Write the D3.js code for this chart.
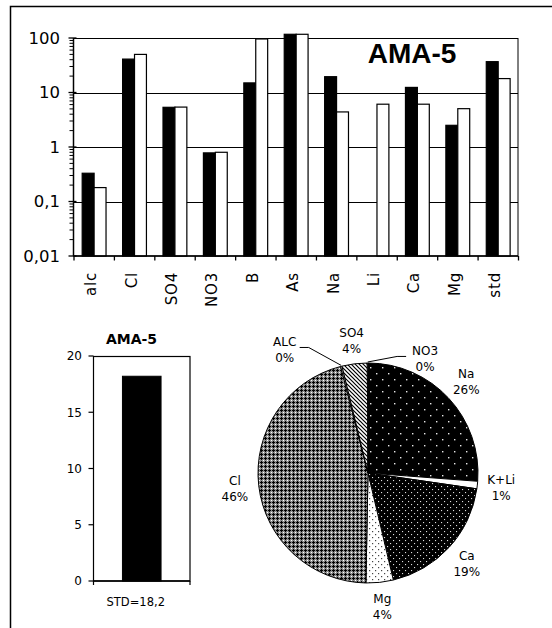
<!DOCTYPE html>
<html><head><meta charset="utf-8">
<script src="https://cdn.jsdelivr.net/npm/d3@7"></script>
<style>body{margin:0;background:#fff} svg{display:block}</style>
</head><body><svg id="c" width="552" height="628"></svg>
<script>
// ---------- data ----------
const categories = ["alc","Cl","SO4","NO3","B","As","Na","Li","Ca","Mg","std"];
const seriesBlack = [0.33, 41, 5.35, 0.78, 15, 117, 19.5, null, 12.4, 2.5, 36.8];
const seriesWhite = [0.18, 50, 5.4, 0.8, 96, 117, 4.4, 6.1, 6.1, 5.05, 18];
const logTicks = [0.01, 0.1, 1, 10, 100];
const logTickLabels = ["0,01", "0,1", "1", "10", "100"];
const mainTitle = "AMA-5";

const stdTitle = "AMA-5";
const stdValues = [18.2];
const stdCategory = ["STD=18,2"];
const stdTicks = [0, 5, 10, 15, 20];

const pieLabels = ["Na","K+Li","Ca","Mg","Cl","ALC","SO4","NO3"];
const pieValues = [26.2, 1.1, 19.0, 4.0, 45.7, 0.2, 3.7, 0.1];
const piePctLabels = ["26%","1%","19%","4%","46%","0%","4%","0%"];

// ---------- setup ----------
const svg = d3.select("#c");
const FONT = "'DejaVu Sans', sans-serif";

// frame
svg.append("path").attr("d","M10.5,628 V6.5 H552").attr("fill","none").attr("stroke","#000").attr("stroke-width",1.5);

// patterns
const defs = svg.append("defs");
function pat(id, w, h) {
  return defs.append("pattern").attr("id", id).attr("patternUnits","userSpaceOnUse")
    .attr("width", w).attr("height", h);
}
let p = pat("pNa", 12, 12);
p.append("rect").attr("width",12).attr("height",12).attr("fill","#000");
[[2,2],[8,8]].forEach(d => p.append("rect").attr("x",d[0]).attr("y",d[1]).attr("width",1.4).attr("height",1.4).attr("fill","#e8e8e8"));
p = pat("pCa", 6, 6);
p.append("rect").attr("width",6).attr("height",6).attr("fill","#000");
[[1,1],[4,4]].forEach(d => p.append("rect").attr("x",d[0]).attr("y",d[1]).attr("width",1.1).attr("height",1.1).attr("fill","#ddd"));
p = pat("pMg", 6, 6);
p.append("rect").attr("width",6).attr("height",6).attr("fill","#fff");
[[1,1],[4,4]].forEach(d => p.append("rect").attr("x",d[0]).attr("y",d[1]).attr("width",1.2).attr("height",1.2).attr("fill","#444"));
p = pat("pCl", 4, 4);
p.append("rect").attr("width",4).attr("height",4).attr("fill","#8c8c8c");
[[1,0],[0,1],[1,1],[2,1],[1,2]].forEach(d => p.append("rect").attr("x",d[0]).attr("y",d[1]).attr("width",1).attr("height",1).attr("fill","#000"));
p.append("rect").attr("x",3).attr("y",3).attr("width",1).attr("height",1).attr("fill","#fff");
p = pat("pSO4", 4, 4);
p.append("rect").attr("width",4).attr("height",4).attr("fill","#fff");
p.append("path").attr("d","M0,0 L4,4 M-1,3 L1,5 M3,-1 L5,1").attr("stroke","#000").attr("stroke-width",1.2);
const pieFills = ["url(#pNa)","#fff","url(#pCa)","url(#pMg)","url(#pCl)","#fff","url(#pSO4)","#fff"];

// ---------- top log bar chart ----------
const P = {l:73.5, r:518, t:38, b:256};
const y = d3.scaleLog().domain([0.01, 100]).range([P.b, P.t]);
const x0 = d3.scaleBand().domain(categories).range([P.l, P.r]).paddingInner(0);
const bw = x0.bandwidth();
const x1 = d3.scaleBand().domain(["black","white"]).range([bw*0.215, bw*0.805]);

const topG = svg.append("g");
// gridlines
topG.selectAll("line.grid").data(logTicks.slice(1, -1)).enter().append("line")
  .attr("x1", P.l).attr("x2", P.r).attr("y1", d => Math.round(y(d))+0.5).attr("y2", d => Math.round(y(d))+0.5)
  .attr("stroke","#000").attr("stroke-width",1);
// plot border
topG.append("rect").attr("x",P.l).attr("y",P.t+0.5).attr("width",P.r-P.l).attr("height",P.b-P.t-0.5)
  .attr("fill","none").attr("stroke","#000").attr("stroke-width",1);

// bars
const barData = [];
categories.forEach((c,i) => {
  if (seriesBlack[i] != null) barData.push({c, s:"black", v:seriesBlack[i]});
  if (seriesWhite[i] != null) barData.push({c, s:"white", v:seriesWhite[i]});
});
topG.selectAll("rect.bar").data(barData).enter().append("rect")
  .attr("x", d => x0(d.c) + x1(d.s))
  .attr("width", x1.bandwidth())
  .attr("y", d => y(d.v))
  .attr("height", d => P.b - y(d.v))
  .attr("fill", d => d.s === "black" ? "#000" : "#fff")
  .attr("stroke","#000").attr("stroke-width",1.2);

// y axis ticks (major + minor)
const minor = y.ticks().filter(t => !logTicks.includes(t));
topG.selectAll("line.minor").data(minor).enter().append("line")
  .attr("x1", P.l-4).attr("x2", P.l).attr("y1", d => y(d)).attr("y2", d => y(d))
  .attr("stroke","#000").attr("stroke-width",1);
topG.selectAll("line.major").data(logTicks).enter().append("line")
  .attr("x1", P.l-5).attr("x2", P.l+3).attr("y1", d => y(d)).attr("y2", d => y(d))
  .attr("stroke","#000").attr("stroke-width",1.3);
topG.append("line").attr("x1",P.l).attr("x2",P.l).attr("y1",P.t).attr("y2",P.b).attr("stroke","#000").attr("stroke-width",1.5);
topG.append("line").attr("x1",P.l).attr("x2",P.r).attr("y1",P.b).attr("y2",P.b).attr("stroke","#000").attr("stroke-width",1.5);
topG.selectAll("text.yt").data(logTicks).enter().append("text")
  .attr("x", 60).attr("y", d => y(d)).attr("dy","0.36em").attr("text-anchor","end")
  .attr("font-family", FONT).attr("font-size", 16.5).text((d,i) => logTickLabels[i]);

// x axis ticks and labels
const bounds = categories.map(c => x0(c)).concat([P.r]);
topG.selectAll("line.xt").data(bounds).enter().append("line")
  .attr("x1", d => d+0.5).attr("x2", d => d+0.5).attr("y1", P.b).attr("y2", P.b+4.5)
  .attr("stroke","#000").attr("stroke-width",1.3);
topG.selectAll("text.xl").data(categories).enter().append("text")
  .attr("transform", d => `translate(${x0(d)+bw/2-3},${P.b+16}) rotate(-90)`)
  .attr("dy","0.36em").attr("text-anchor","end")
  .attr("font-family", FONT).attr("font-size", 15).attr("letter-spacing", 0.8).text(d => d);

topG.append("text").attr("x", 412).attr("y", 63).attr("text-anchor","middle")
  .attr("font-family","'Liberation Sans', Arial, sans-serif").attr("font-weight","bold")
  .attr("font-size", 28).text(mainTitle);

// ---------- bottom-left STD bar ----------
const S = {l:93.5, r:190, t:356, b:581};
const ys = d3.scaleLinear().domain([0, 20]).range([S.b, S.t]);
const xs = d3.scaleBand().domain(stdCategory).range([S.l, S.r]).paddingInner(0.6).paddingOuter(0.3);
const sg = svg.append("g");
sg.append("rect").attr("x",S.l).attr("y",S.t+0.5).attr("width",S.r-S.l).attr("height",S.b-S.t-0.5)
  .attr("fill","none").attr("stroke","#000").attr("stroke-width",1.2);
sg.selectAll("rect.sb").data(stdValues).enter().append("rect")
  .attr("x", (d,i) => xs(stdCategory[i])).attr("width", xs.bandwidth())
  .attr("y", d => ys(d)).attr("height", d => S.b - ys(d))
  .attr("fill","#000").attr("stroke","#000");
sg.selectAll("line.st").data(stdTicks).enter().append("line")
  .attr("x1", S.l-5).attr("x2", S.l).attr("y1", d => ys(d)).attr("y2", d => ys(d))
  .attr("stroke","#000").attr("stroke-width",1.2);
sg.selectAll("line.sxt").data([S.l, S.r]).enter().append("line")
  .attr("x1", d => d).attr("x2", d => d).attr("y1", S.b).attr("y2", S.b+4)
  .attr("stroke","#000").attr("stroke-width",1.2);
sg.append("line").attr("x1",S.l).attr("x2",S.r).attr("y1",S.b).attr("y2",S.b).attr("stroke","#000").attr("stroke-width",1.5);
sg.selectAll("text.sy").data(stdTicks).enter().append("text")
  .attr("x", 82).attr("y", d => ys(d)).attr("dy","0.36em").attr("text-anchor","end")
  .attr("font-family", FONT).attr("font-size", 12).text(d => d);
sg.selectAll("text.sx").data(stdCategory).enter().append("text")
  .attr("x", d => xs(d) + xs.bandwidth()/2 - 6).attr("y", S.b + 25).attr("text-anchor","middle")
  .attr("font-family", FONT).attr("font-size", 11.5).text(d => d);
sg.append("text").attr("x", 131.5).attr("y", 343.5).attr("text-anchor","middle")
  .attr("font-family", FONT).attr("font-weight","bold").attr("font-size", 14).text(stdTitle);

// ---------- pie ----------
const C = {x:368, y:473, r:110};
const pie = d3.pie().sort(null).value(d => d)(pieValues);
const arc = d3.arc().innerRadius(0).outerRadius(C.r);
const pg = svg.append("g").attr("transform", `translate(${C.x},${C.y})`);
pg.selectAll("path").data(pie).enter().append("path")
  .attr("d", arc).attr("fill", (d,i) => pieFills[i])
  .attr("stroke","#000").attr("stroke-width",1).attr("stroke-linejoin","round");

// labels: placed around mid angle; small slices moved aside with leader lines
const labelRadius = 134;
const moved = {"ALC": {a: 326, r: 149, side: 1}, "NO3": {a: 26.5, r: 128, side: -1}};
pie.forEach((d,i) => {
  const name = pieLabels[i];
  const mid = (d.startAngle + d.endAngle) / 2;
  let ang = mid, rad = labelRadius;
  if (moved[name]) { ang = moved[name].a * Math.PI/180; rad = moved[name].r; }
  const lx = rad * Math.sin(ang), ly = -rad * Math.cos(ang);
  const t = pg.append("text").attr("text-anchor","middle")
    .attr("font-family", FONT).attr("font-size", 12);
  t.append("tspan").attr("x", lx).attr("y", ly - 3.5).text(name);
  t.append("tspan").attr("x", lx).attr("y", ly + 12.5).text(piePctLabels[i]);
  if (moved[name]) {
    const m = moved[name];
    const sx = lx + m.side * (name === "ALC" ? 15 : 19), sy = ly - 2;
    const ex = (C.r + 1) * Math.sin(mid), ey = -(C.r + 1) * Math.cos(mid);
    pg.append("path").attr("d", `M${sx},${sy} h${m.side*9} L${ex},${ey}`)
      .attr("fill","none").attr("stroke","#000").attr("stroke-width",1);
  }
});
</script>
</body></html>
